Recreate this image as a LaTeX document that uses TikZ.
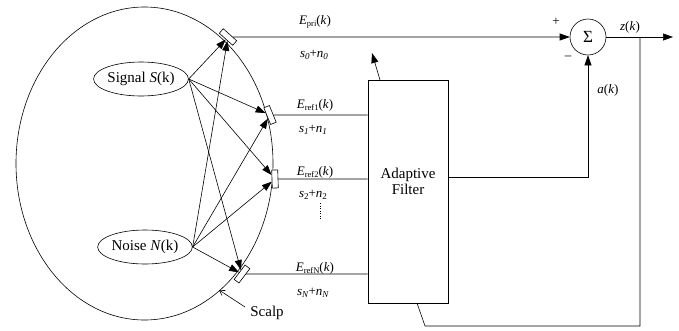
\documentclass[tikz,border=0pt]{standalone}
\usepackage{fontspec}
\setmainfont{Liberation Serif}
\usetikzlibrary{arrows.meta,shapes.geometric}
\newcommand\Elab[1]{\textit{E}\raisebox{-0.35ex}{\fontsize{8.5}{9}\selectfont #1}(\textit{k})}
\newcommand\SN[2]{\textit{s}\raisebox{-0.35ex}{\fontsize{9}{9}\selectfont #1}+\textit{n}\raisebox{-0.35ex}{\fontsize{9}{9}\selectfont #2}}
\begin{document}
\begin{tikzpicture}[x=1pt,y=-1pt,line width=0.6pt,
  every node/.style={font=\fontsize{15}{17}\selectfont},
  arr/.style={-{Triangle[length=10pt,width=7pt]}},
  elec/.style={draw,fill=white,minimum width=18pt,minimum height=6pt,inner sep=0pt,line width=0.6pt},
  src/.style={draw,ellipse,minimum width=86pt,minimum height=34pt,inner sep=0pt},
  lab/.style={font=\fontsize{13}{15}\selectfont,inner sep=0pt}]
\useasboundingbox (0,0) rectangle (679,330);
% scalp
\draw (144.5,163.5) ellipse [x radius=128.5, y radius=156.5];
% sources
\node[src] (sig) at (141,79) {Signal \textit{S}(k)};
\node[src] (noi) at (145,247) {Noise \textit{N}(k)};
% electrodes
\node[elec,rotate=-42] (e0) at (228,37) {};
\node[elec,rotate=-68] (e1) at (270,115) {};
\node[elec,rotate=-88] (e2) at (275,179) {};
\node[elec,rotate=53] (eN) at (242,274) {};
% propagation arrows
\foreach \t in {e0,e1,e2,eN}{
  \draw[arr] (sig.east) -- (\t);
  \draw[arr] (noi.east) -- (\t);
}
% filter
\node[draw,minimum width=80pt,minimum height=223pt,inner sep=0pt] (filt) at (408,191.5) {};
\node[align=center,inner sep=0pt] (ftxt) at (408,181) {Adaptive\\[-1pt]Filter};
% sum
\node[draw,circle,minimum size=36pt,inner sep=0pt,font=\fontsize{17}{17}\selectfont] (sum) at (588,37) {Σ};
% electrode lines
\draw[arr] (e0) -- (sum);
\draw (e1) -- (e1 -| filt.west);
\draw (e2) -- (e2 -| filt.west);
\draw (eN) -- (eN -| filt.west);
% labels
\node[lab] (lp) at (315,22) {\Elab{pri}};
\node[lab] (l0) at (314,55) {\SN{\textit{0}}{\textit{0}}};
\node[lab] (lr1) at (315,105) {\Elab{ref1}};
\node[lab] (l1) at (313,130) {\SN{\textit{1}}{\textit{1}}};
\node[lab] (lr2) at (315,172) {\Elab{ref2}};
\node[lab] (l2) at (313,195) {\SN{2}{2}};
\node[lab] (lrN) at (315,268) {\Elab{refN}};
\node[lab] (lN) at (313,293) {\SN{\textit{N}}{\textit{N}}};
\coordinate (d1) at (320,203);
\coordinate (d2) at (320,220);
\draw[dotted,line width=0.5pt] (d1) -- (d2);
% adaptation arrow
\coordinate (fa) at (380,80);
\coordinate (ad) at (372,53);
\draw[arr] (fa) -- (ad);
% filter output
\coordinate (fo) at (448,177);
\draw[arr] (fo) -| (sum.south);
% output
\coordinate (zt) at (640,37);
\coordinate (out) at (673,37);
\draw[arr] (sum) -- (out);
\coordinate (fb1) at (425,326);
\coordinate (fb2) at (417,303);
\draw (zt) |- (fb1) -- (fb2);
\node[inner sep=0pt,font=\fontsize{13}{13}\selectfont] (plus) at (556,22) {+};
\node[inner sep=0pt,font=\fontsize{13}{13}\selectfont] (minus) at (568,58) {\textendash};
\node[lab] (ak) at (608,90) {\textit{a}(\textit{k})};
\node[lab] (zk) at (630,27) {\textit{z}(\textit{k})};
% scalp label
\node[inner sep=0pt] (scalp) at (267,313) {Scalp};
\coordinate (sa) at (245,307);
\coordinate (sb) at (219,290);
\draw[-{Straight Barb[length=5pt,width=6pt]}] (sa) -- (sb);
\end{tikzpicture}
\end{document}
